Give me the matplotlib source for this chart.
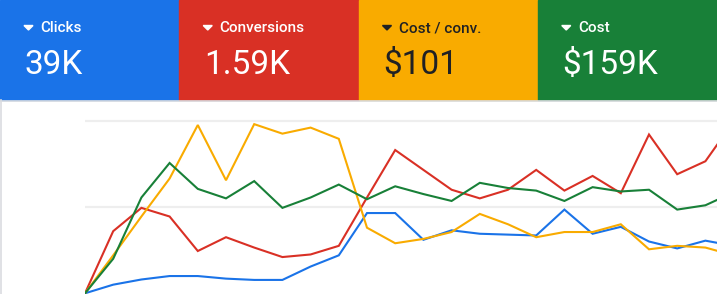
#!/usr/bin/env python3
"""
Scorecard tiles + overlaid trend lines (Clicks / Conversions / Cost per conv. / Cost)
"""
import numpy as np
import matplotlib
matplotlib.use('Agg')
import matplotlib.pyplot as plt
from matplotlib.patches import Rectangle, Polygon
from matplotlib.lines import Line2D

# ------------------------------------------------------------------
# 1. Data (normalised values, one per period)
# ------------------------------------------------------------------
metric_names = ['Clicks', 'Conversions', 'Cost / conv.', 'Cost']
metric_values = ['39K', '1.59K', '$101', '$159K']

clicks = [0.00, 0.10, 0.16, 0.20, 0.20, 0.17, 0.155, 0.155, 0.31, 0.44, 0.93, 0.93,
          0.62, 0.73, 0.69, 0.68, 0.67, 0.97, 0.69, 0.77, 0.60, 0.52, 0.61, 0.55]
conversions = [0.00, 0.72, 0.99, 0.89, 0.49, 0.65, 0.53, 0.42, 0.45, 0.55, 1.11, 1.66,
               1.43, 1.20, 1.10, 1.20, 1.43, 1.19, 1.36, 1.16, 1.84, 1.38, 1.53, 1.99]
cost_per_conv = [0.00, 0.44, 0.89, 1.33, 1.95, 1.31, 1.96, 1.85, 1.92, 1.79, 0.76, 0.58,
                 0.63, 0.71, 0.92, 0.80, 0.65, 0.71, 0.71, 0.80, 0.51, 0.55, 0.53, 0.44]
cost = [0.00, 0.40, 1.11, 1.51, 1.21, 1.10, 1.30, 0.99, 1.11, 1.26, 1.09, 1.24,
        1.15, 1.07, 1.28, 1.22, 1.19, 1.07, 1.23, 1.18, 1.20, 0.97, 1.02, 1.17]

series = [clicks, conversions, cost_per_conv, cost]
colors = ['#1a73e8', '#d93025', '#f9ab00', '#188038']
text_colors = ['white', 'white', '#202124', 'white']

# ------------------------------------------------------------------
# 2. Figure in pixel units
# ------------------------------------------------------------------
W_PX, H_PX = 717, 294
fig = plt.figure(figsize=(W_PX / 100, H_PX / 100), dpi=100)
plt.rcParams['font.family'] = ['Roboto', 'DejaVu Sans']


def fx(px):
    return px / W_PX


def fy(py):
    return 1 - py / H_PX


# Scorecard tiles
tile_w = W_PX / 4
tile_h = 100
for i, (name, val) in enumerate(zip(metric_names, metric_values)):
    x0 = i * tile_w
    fig.patches.append(Rectangle((fx(x0), fy(tile_h)), fx(tile_w), tile_h / H_PX,
                                 transform=fig.transFigure, color=colors[i], zorder=0))
    # small dropdown arrow
    tri = [(fx(x0 + 24), fy(25.5)), (fx(x0 + 33), fy(25.5)), (fx(x0 + 28.5), fy(30))]
    fig.patches.append(Polygon(tri, closed=True, transform=fig.transFigure,
                               color=text_colors[i], zorder=2))
    fig.text(fx(x0 + 40.5), fy(32.3), name, color=text_colors[i], fontsize=11,
             fontweight=500, va='baseline', ha='left')
    fig.text(fx(x0 + 24.5), fy(74), val, color=text_colors[i], fontsize=24,
             va='baseline', ha='left')

# divider under tiles and left border
fig.lines.append(Line2D([0, 1], [fy(100.5), fy(100.5)], transform=fig.transFigure,
                        color='#dadce0', lw=1.2))
fig.lines.append(Line2D([fx(0.5), fx(0.5)], [fy(100), 0], transform=fig.transFigure,
                        color='#dadce0', lw=1.2))

# ------------------------------------------------------------------
# 3. Line chart
# ------------------------------------------------------------------
x_left = 85
step = 28.2
unit = 86.3
y_zero = 293.3
ax = fig.add_axes([fx(x_left), 0, fx(W_PX - x_left), fy(101)])
ax.set_xlim(0, (W_PX - x_left) / step)
ax.set_ylim(-(H_PX - y_zero) / unit, (y_zero - 101) / unit)

for yv in [1, 2]:
    ax.axhline(yv, color='#eeeeee', lw=1.6, zorder=1)

xs = np.arange(len(clicks))
for vals, c in zip(series, colors):
    ax.plot(xs, vals, color=c, lw=1.5, zorder=3, solid_joinstyle='miter')

ax.axis('off')

plt.savefig('out.png', dpi=100)
print('Saved: out.png')
